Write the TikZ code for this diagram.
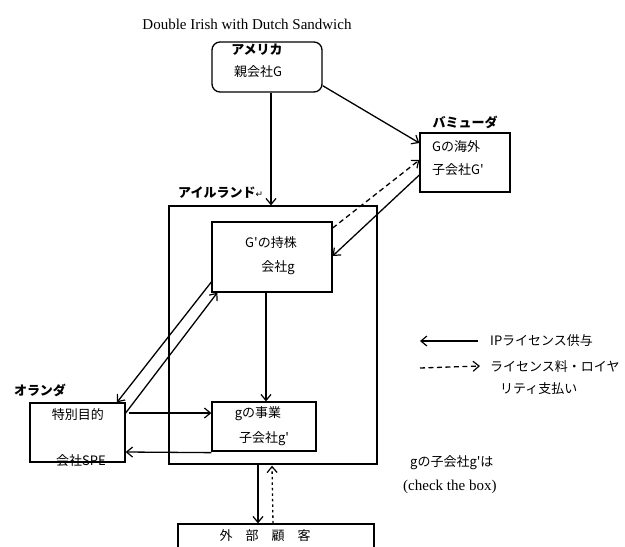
\documentclass[tikz,border=0pt]{standalone}
\usepackage{fontspec}
\setmainfont{Liberation Serif}
\newfontfamily\jp{Noto Sans CJK JP}
\newfontfamily\dv{DejaVu Sans}
\usetikzlibrary{arrows.meta}
\begin{document}
\begin{tikzpicture}[x=1pt,y=-1pt,
  box/.style={draw,line width=1.3pt,inner sep=0,minimum width=#1},
  lab/.style={inner sep=0,font=\jp\fontsize{13}{15}\selectfont},
  blab/.style={inner sep=0,font=\jp\bfseries\fontsize{13}{15}\selectfont},
  lat/.style={inner sep=0,font=\fontsize{15}{17}\selectfont},
  arr/.style={line width=1.3pt,-{Straight Barb[length=6pt,width=10pt,line width=1.2pt]}},
  dsh/.style={arr,dash pattern=on 5pt off 3.5pt},
  dot/.style={arr,dash pattern=on 2.5pt off 3pt}]
\clip (0,0) rectangle (625,547);
\fill[white] (0,0) rectangle (625,547);
% boxes
\node[box=110pt,minimum height=50pt,rounded corners=8pt] (america) at (267,67) {};
\node[box=208pt,minimum height=258pt] (ireland) at (273,335) {};
\node[box=90pt,minimum height=59pt] (bermuda) at (465,162.5) {};
\node[box=120pt,minimum height=70pt] (holding) at (272,257) {};
\node[box=104pt,minimum height=49pt] (operating) at (264,426.5) {};
\node[box=95pt,minimum height=59pt] (spe) at (77.5,432.5) {};
\node[box=196pt,minimum height=44pt] (customer) at (276,546) {};
% texts
\node[lat] (title) at (247,24) {Double Irish with Dutch Sandwich};
\node[blab] (tam) at (257,50) {アメリカ};
\node[lab] (tam2) at (258,72) {親会社G};
\node[blab] (tbm) at (465,122) {バミューダ};
\node[lab,anchor=west] (tbm1) at (432,147) {Gの海外};
\node[lab,anchor=west] (tbm2) at (432,170) {子会社G'};
\node[blab,anchor=west] (tir) at (178,193) {アイルランド{\dv\mdseries\fontsize{9}{10}\selectfont ↵}};
\node[lab] (tho1) at (271,243) {G'の持株};
\node[lab] (tho2) at (278,268) {会社g};
\node[lab] (top1) at (258,414) {gの事業};
\node[lab] (top2) at (264,439) {子会社g'};
\node[blab] (tnl) at (40,390) {オランダ};
\node[lab] (tsp1) at (78,415) {特別目的};
\node[lab] (tsp2) at (81,461) {会社SPE};
\node[lab] (tcu) at (265,536) {外　部　顧　客};
\node[lab,anchor=west] (ipl) at (490,341) {IPライセンス供与};
\node[lab,anchor=west] (fee1) at (490,367) {ライセンス料・ロイヤ};
\node[lab,anchor=west] (fee2) at (500,389) {リティ支払い};
\node[lab,anchor=west] (cb1) at (410,463) {gの子会社g'は};
\node[lat,anchor=west] (cb2) at (403,487) {(check the box)};
% connectors
\draw[arr] ([xshift=4pt]america.south) -- ([xshift=4pt]america.south |- ireland.north);
\draw[arr] ([yshift=7pt]america.south east) -- ([yshift=19.5pt]bermuda.west);
\draw[dsh] ([yshift=29pt]holding.east) -- ([yshift=2.5pt]bermuda.west);
\draw[arr] ([yshift=-12.5pt]bermuda.west) -- ([yshift=1pt]holding.east);
\draw[arr] ([xshift=-6pt]holding.south) -- ([xshift=-6pt]holding.south |- operating.north);
\draw[arr] ([yshift=-25pt]holding.west) -- ([xshift=39.5pt]spe.north);
\draw[arr] ([yshift=19.5pt]spe.east) -- ([xshift=6pt]holding.south west);
\draw[arr] ([yshift=19.5pt,xshift=3pt]spe.east) -- ([yshift=13.5pt]operating.west);
\draw[arr] ([yshift=-1pt]operating.south west) -- ([yshift=-19.5pt]spe.east);
\draw[arr] ([xshift=-15pt]ireland.south) -- ([xshift=-18pt]customer.north);
\draw[dot] ([xshift=-3pt]customer.north) -- ([xshift=-1pt,yshift=-1pt]ireland.south);
% legend
\coordinate (l1) at (420,341);
\coordinate (l2) at (420,368);
\draw[arr] ([xshift=-12pt]ipl.west) -- (l1);
\draw[dsh] (l2) -- ([xshift=-10pt,yshift=1pt]fee1.west);
\end{tikzpicture}
\end{document}
